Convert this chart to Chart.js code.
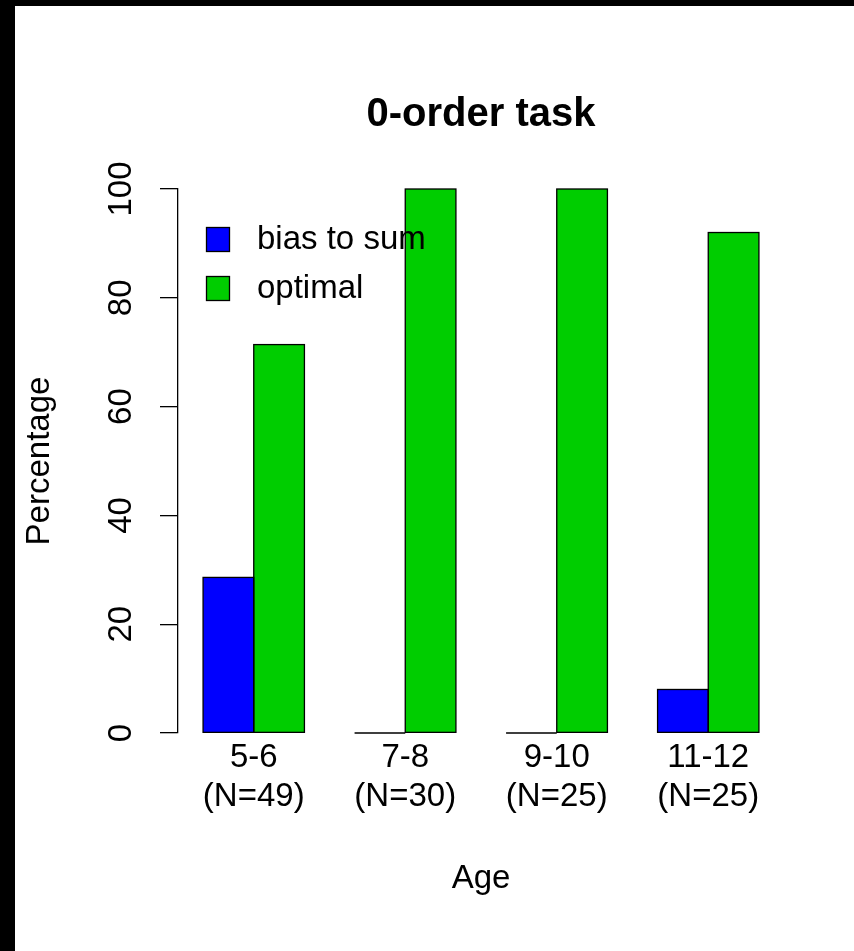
<!DOCTYPE html>
<html>
<head>
<meta charset="utf-8">
<script src="https://cdn.jsdelivr.net/npm/chart.js@4.4.1/dist/chart.umd.min.js"></script>
<style>
  html, body { margin: 0; padding: 0; background: #000; }
  #sheet { position: absolute; left: 15px; top: 6px; width: 839px; height: 945px; background: #fff; }
  #chart { display: block; }
</style>
</head>
<body>
<div id="sheet"><canvas id="chart" width="839" height="945"></canvas></div>
<script>
// age groups (two-line tick labels)
var ages = [["5-6", "(N=49)"], ["7-8", "(N=30)"], ["9-10", "(N=25)"], ["11-12", "(N=25)"]];
// percentages per age group
var biasToSum = [28.6, 0, 0, 8];
var optimal = [71.4, 100, 100, 92];

Chart.defaults.font.family = "'Liberation Sans', Arial, Helvetica, sans-serif";
Chart.defaults.color = "#000";

// R-style bar outlines (also draws the flat line for zero-height bars)
var outlineBars = {
  id: "outlineBars",
  afterDatasetsDraw: function (chart) {
    var ctx = chart.ctx;
    ctx.save();
    ctx.strokeStyle = "#000";
    ctx.lineWidth = 1.3;
    chart.data.datasets.forEach(function (ds, i) {
      chart.getDatasetMeta(i).data.forEach(function (bar) {
        var p = bar.getProps(["x", "y", "base", "width"], true);
        ctx.strokeRect(p.x - p.width / 2, p.y, p.width, p.base - p.y);
      });
    });
    ctx.restore();
  }
};

// legend inside the plot, no box (bty = "n")
var insideLegend = {
  id: "insideLegend",
  afterDraw: function (chart) {
    var ctx = chart.ctx;
    var a = chart.chartArea;
    ctx.save();
    ctx.font = "33px 'Liberation Sans', Arial, sans-serif";
    ctx.textBaseline = "middle";
    ctx.textAlign = "left";
    chart.data.datasets.forEach(function (ds, i) {
      var x = a.left + 28;
      var y = a.top + 38 + i * 49;
      ctx.fillStyle = ds.backgroundColor;
      ctx.fillRect(x, y, 23, 24);
      ctx.strokeStyle = "#000";
      ctx.lineWidth = 1.3;
      ctx.strokeRect(x + 0.5, y + 0.5, 23, 24);
      ctx.fillStyle = "#000";
      ctx.fillText(ds.label, x + 51, y + 13);
    });
    ctx.restore();
  }
};

new Chart("chart", {
  type: "bar",
  data: {
    labels: ages,
    datasets: [
      { label: "bias to sum", data: biasToSum, backgroundColor: "#0000FF", borderWidth: 0 },
      { label: "optimal", data: optimal, backgroundColor: "#00CD00", borderWidth: 0 }
    ]
  },
  options: {
    responsive: false,
    animation: false,
    layout: { padding: { top: 40, bottom: 50, left: 0, right: 70 } },
    datasets: { bar: { categoryPercentage: 0.669, barPercentage: 1 } },
    plugins: {
      legend: { display: false },
      tooltip: { enabled: false },
      title: {
        display: true,
        fullSize: false,
        text: "0-order task",
        font: { size: 40, weight: "bold", lineHeight: 1.2 },
        color: "#000",
        padding: { top: 45, bottom: 50 }
      }
    },
    scales: {
      x: {
        grid: { display: false, drawTicks: false },
        border: { display: false },
        ticks: { font: { size: 33, lineHeight: 1.167 }, padding: 5.8, maxRotation: 0, autoSkip: false, color: "#000" },
        title: { display: true, text: "Age", font: { size: 33, lineHeight: 1.2 }, color: "#000", padding: { top: 0, bottom: 2.2 } },
        afterFit: function (s) { s.height = 168; }
      },
      y: {
        min: 0,
        max: 100,
        ticks: {
          stepSize: 20, font: { size: 33 }, color: "#000",
          minRotation: 90, maxRotation: 90, crossAlign: "center", padding: 10.5, autoSkip: false
        },
        grid: { display: true, drawOnChartArea: false, drawTicks: true, tickLength: 18, color: "#000", lineWidth: 1.3 },
        border: { display: true, color: "#000", width: 1.3 },
        title: { display: true, text: "Percentage", font: { size: 33, lineHeight: 1.2 }, color: "#000", padding: { top: 5.2, bottom: 0 } },
        afterFit: function (s) { s.width = 163; }
      }
    }
  },
  plugins: [outlineBars, insideLegend]
});
</script>
</body>
</html>
